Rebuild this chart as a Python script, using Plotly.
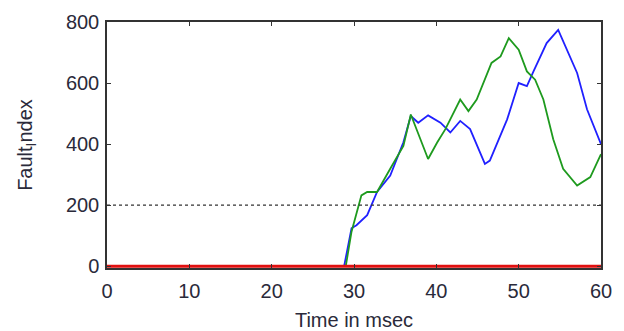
import plotly.graph_objects as go

# Time axis (msec) and fault index traces
t_blue = [0, 28.8, 29.7, 30.3, 31.6, 32.8, 34.4, 36.0, 36.9, 37.8, 39.0, 40.5, 41.7, 42.9,
          44.1, 45.9, 46.5, 48.6, 50.0, 51.0, 51.8, 53.4, 54.8, 55.9, 57.1, 58.3, 60.0]
fi_blue = [0, 0, 124, 134, 167, 243, 297, 406, 492, 470, 494, 470, 438, 476,
           449, 335, 346, 481, 600, 590, 638, 731, 774, 709, 633, 514, 400]

t_green = [0, 29.0, 29.7, 30.9, 31.6, 32.8, 34.4, 36.0, 36.9, 39.0, 40.1, 41.1, 42.9, 43.9,
           44.9, 46.7, 47.8, 48.8, 50.0, 51.0, 52.0, 53.0, 54.2, 55.4, 57.1, 58.7, 60.0]
fi_green = [0, 0, 113, 232, 243, 243, 319, 394, 497, 351, 405, 449, 546, 508,
            546, 666, 687, 747, 709, 638, 611, 546, 416, 319, 264, 292, 367]

t_red = [0, 60]
fi_red = [0, 0]

threshold = 200
x_ticks = [0, 10, 20, 30, 40, 50, 60]
y_ticks = [0, 200, 400, 600, 800]

fig = go.Figure()
fig.add_trace(go.Scatter(x=t_blue, y=fi_blue, mode="lines",
                         line=dict(color="#2020ff", width=1.8)))
fig.add_trace(go.Scatter(x=t_green, y=fi_green, mode="lines",
                         line=dict(color="#1e9a1e", width=1.8)))
fig.add_trace(go.Scatter(x=[0, 60], y=[threshold, threshold], mode="lines",
                         line=dict(color="#333333", width=1.2, dash="dot")))
fig.add_trace(go.Scatter(x=t_red, y=fi_red, mode="lines",
                         line=dict(color="#e01010", width=3)))

font = dict(family="Liberation Sans, Arial, sans-serif", size=20, color="#2a2a3a")
axis_common = dict(showgrid=False, zeroline=False, showline=True, mirror="ticks",
                   linecolor="#333333", linewidth=1.5, ticks="inside", ticklen=4,
                   tickcolor="#333333", tickfont=font, automargin=False)

fig.update_layout(
    width=624, height=331,
    margin=dict(l=107, r=23, t=22, b=63),
    paper_bgcolor="white", plot_bgcolor="white",
    showlegend=False,
    xaxis=dict(range=[0, 60], tickvals=x_ticks, ticklabelstandoff=4,
               title=dict(text="Time in msec", font=font, standoff=12),
               **axis_common),
    yaxis=dict(range=[-6, 800], tickvals=y_ticks, ticklabelstandoff=2,
               title=dict(text="Fault<sub>I</sub>ndex", font=font, standoff=28),
               **axis_common),
)

fig.write_html("out.html")
